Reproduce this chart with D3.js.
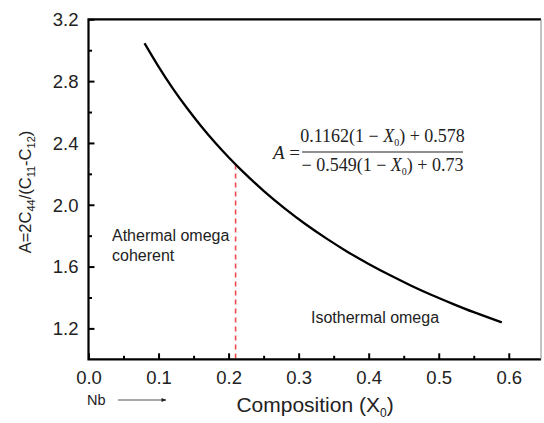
<!DOCTYPE html>
<html><head><meta charset="utf-8">
<script src="https://cdn.jsdelivr.net/npm/d3@7"></script>
<style>body{margin:0;background:#fff;} svg{display:block;}</style>
</head><body>
<script>
// Data
const compX = [0.08, 0.10, 0.12, 0.14, 0.16, 0.18, 0.20, 0.22, 0.25, 0.28, 0.31, 0.34, 0.37, 0.40, 0.43, 0.46, 0.49, 0.52, 0.55, 0.59];
const ratioA = [3.045, 2.894, 2.755, 2.629, 2.513, 2.406, 2.307, 2.216, 2.090, 1.977, 1.874, 1.781, 1.695, 1.617, 1.545, 1.478, 1.416, 1.359, 1.305, 1.239];
const markerX = [0.21];
const markerA = [2.26];
const xTicks = [0.0, 0.1, 0.2, 0.3, 0.4, 0.5, 0.6];
const xMinor = [0.05, 0.15, 0.25, 0.35, 0.45, 0.55];
const yTicks = [1.2, 1.6, 2.0, 2.4, 2.8, 3.2];
const yMinor = [1.4, 1.8, 2.2, 2.6, 3.0];

const W = 544, H = 423;
const L = 88.5, R = 541, T = 19.3, B = 359.3;
const svg = d3.select("body").append("svg").attr("width", W).attr("height", H);
const x = d3.scaleLinear().domain([0, 0.646]).range([L, R]);
const y = d3.scaleLinear().domain([1.0, 3.2]).range([B, T]);
const font = "Arial, 'Liberation Sans', sans-serif";

// dashed marker
svg.append("line")
  .attr("x1", x(markerX[0])).attr("x2", x(markerX[0]))
  .attr("y1", y(markerA[0])).attr("y2", B)
  .attr("stroke", "#ee4a4f").attr("stroke-width", 1.6).attr("stroke-dasharray", "5,4");

// curve
const line = d3.line().x((d,i)=>x(compX[i])).y((d,i)=>y(ratioA[i])).curve(d3.curveNatural);
svg.append("path").datum(ratioA).attr("d", line)
  .attr("fill", "none").attr("stroke", "#000").attr("stroke-width", 2.3);

// frame
svg.append("path").attr("d", `M${R},${T}H${L}V${B}H${R}`)
  .attr("fill", "none").attr("stroke", "#000").attr("stroke-width", 2.2);
svg.append("line").attr("x1", R).attr("x2", R).attr("y1", T).attr("y2", B)
  .attr("stroke", "#888").attr("stroke-width", 1);

// axes
const xAx = svg.append("g").attr("transform", `translate(0,${B})`)
  .call(d3.axisBottom(x).tickValues(xTicks).tickFormat(d3.format(".1f")).tickSizeInner(-6).tickSizeOuter(0).tickPadding(12));
const xAxm = svg.append("g").attr("transform", `translate(0,${B})`)
  .call(d3.axisBottom(x).tickValues(xMinor).tickFormat("").tickSizeInner(-3.5).tickSizeOuter(0));
const yAx = svg.append("g").attr("transform", `translate(${L},0)`)
  .call(d3.axisLeft(y).tickValues(yTicks).tickFormat(d3.format(".1f")).tickSizeInner(-6).tickSizeOuter(0).tickPadding(10));
const yAxm = svg.append("g").attr("transform", `translate(${L},0)`)
  .call(d3.axisLeft(y).tickValues(yMinor).tickFormat("").tickSizeInner(-3.5).tickSizeOuter(0));
[xAx, xAxm, yAx, yAxm].forEach(g => {
  g.select(".domain").remove();
  g.selectAll(".tick line").attr("stroke", "#000").attr("stroke-width", 2);
  g.selectAll(".tick text").attr("font-family", font).attr("font-size", 18.5).attr("fill", "#222");
});
yAx.selectAll(".tick text").attr("dy", "0.34em");

// y label
const yl = svg.append("text").attr("transform", "translate(31,192) rotate(-90)")
  .attr("text-anchor", "middle").attr("font-family", font).attr("font-size", 16.5).attr("fill", "#222");
yl.append("tspan").text("A=2C");
yl.append("tspan").attr("font-size", 11).attr("dy", 4).text("44");
yl.append("tspan").attr("dy", -4).text("/(C");
yl.append("tspan").attr("font-size", 11).attr("dy", 4).text("11");
yl.append("tspan").attr("dy", -4).text("-C");
yl.append("tspan").attr("font-size", 11).attr("dy", 4).text("12");
yl.append("tspan").attr("dy", -4).text(")");

// x label
const xl = svg.append("text").attr("x", 315).attr("y", 412).attr("text-anchor", "middle")
  .attr("font-family", font).attr("font-size", 21).attr("fill", "#222");
xl.append("tspan").text("Composition (X");
xl.append("tspan").attr("font-size", 12).attr("dy", 5).text("0");
xl.append("tspan").attr("dy", -5).text(")");

// Nb arrow
svg.append("text").attr("x", 87).attr("y", 405).attr("font-family", font).attr("font-size", 14.5).attr("fill", "#222").text("Nb");
svg.append("defs").append("marker").attr("id", "ah").attr("viewBox", "0 0 10 10").attr("refX", 9).attr("refY", 5)
  .attr("markerWidth", 7).attr("markerHeight", 5).attr("orient", "auto")
  .append("path").attr("d", "M0,1L10,5L0,9Z").attr("fill", "#222");
svg.append("line").attr("x1", 118).attr("x2", 166).attr("y1", 400).attr("y2", 400)
  .attr("stroke", "#555").attr("stroke-width", 1).attr("marker-end", "url(#ah)");

// annotations
svg.append("text").attr("x", 112).attr("y", 241).attr("font-family", font).attr("font-size", 16).attr("fill", "#222").text("Athermal omega");
svg.append("text").attr("x", 112).attr("y", 261).attr("font-family", font).attr("font-size", 16).attr("fill", "#222").text("coherent");
svg.append("text").attr("x", 311).attr("y", 323).attr("font-family", font).attr("font-size", 16).attr("fill", "#222").text("Isothermal omega");

// formula
const serif = "'Liberation Serif', 'Times New Roman', serif";
const fA = svg.append("text").attr("x", 273).attr("y", 159).attr("font-family", serif).attr("font-size", 19).attr("fill", "#222");
fA.append("tspan").attr("font-style", "italic").text("A");
fA.append("tspan").text(" =");
svg.append("line").attr("x1", 302).attr("x2", 463).attr("y1", 152).attr("y2", 152).attr("stroke", "#222").attr("stroke-width", 1.2);
function frac(yb, parts) {
  const t = svg.append("text").attr("x", 382.5).attr("y", yb).attr("text-anchor", "middle")
    .attr("font-family", serif).attr("font-size", 18).attr("fill", "#222");
  t.append("tspan").text(parts[0]);
  t.append("tspan").attr("font-style", "italic").text("X");
  t.append("tspan").attr("font-size", 10).attr("dy", 4).text("0");
  t.append("tspan").attr("dy", -4).text(parts[1]);
}
frac(142, ["0.1162(1 \u2212 ", ") + 0.578"]);
frac(171, ["\u2212 0.549(1 \u2212 ", ") + 0.73"]);
</script>
</body></html>
